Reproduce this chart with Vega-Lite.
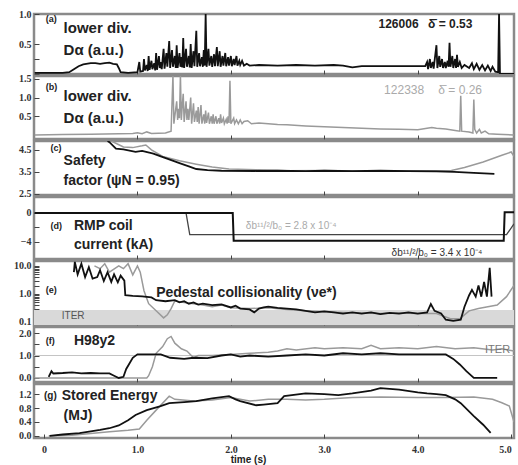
{
"$schema":"https://vega.github.io/schema/vega-lite/v6.json",
"padding":{"left":12,"top":7,"right":0,"bottom":2},
"spacing":2,
"bounds":"flush",
"config":{"view":{"stroke":"#8a8a8a","strokeWidth":2.5},
"axis":{"grid":false,"domain":false,"labelFont":"Liberation Sans Narrow","labelFontWeight":"bold","labelFontSize":10,"labelColor":"#333","tickColor":"#444","tickSize":-5,"labelPadding":8,"title":null},
"concat":{"spacing":2}},
"vconcat":[
{"width":480,"height":60,
"encoding":{"x":{"field":"t","type":"quantitative","scale":{"domain":[-0.107,5.03],"nice":false,"zero":false},"axis":{"values":[1,2,3,4],"labels":false,"tickSize":-4}},
"y":{"field":"v","type":"quantitative","scale":{"domain":[0,1],"nice":false,"zero":false},"axis":{"values":[0,0.25,0.5,1],"labelExpr":"datum.value==0.5||datum.value==1?format(datum.value,'.1f'):''"}}},
"layer":[
{"data":{"values":[{"t":-0.1,"v":0.02},{"t":0.0,"v":0.02},{"t":0.1,"v":0.02},{"t":0.2,"v":0.02},{"t":0.27,"v":0.03},{"t":0.32,"v":0.08},{"t":0.37,"v":0.13},{"t":0.42,"v":0.16},{"t":0.5,"v":0.18},{"t":0.55,"v":0.18},{"t":0.6,"v":0.17},{"t":0.65,"v":0.18},{"t":0.7,"v":0.19},{"t":0.74,"v":0.17},{"t":0.78,"v":0.16},{"t":0.8,"v":0.1},{"t":0.82,"v":0.03},{"t":0.9,"v":0.02},{"t":1.0,"v":0.03},{"t":1.02,"v":0.2},{"t":1.03,"v":0.04},{"t":1.06,"v":0.05},{"t":1.07,"v":0.25},{"t":1.08,"v":0.06},{"t":1.1,"v":0.15},{"t":1.11,"v":0.05},{"t":1.12,"v":0.3},{"t":1.13,"v":0.07},{"t":1.15,"v":0.22},{"t":1.16,"v":0.08},{"t":1.18,"v":0.18},{"t":1.19,"v":0.06},{"t":1.2,"v":0.35},{"t":1.21,"v":0.07},{"t":1.23,"v":0.3},{"t":1.24,"v":0.1},{"t":1.25,"v":0.2},{"t":1.26,"v":0.08},{"t":1.28,"v":0.42},{"t":1.29,"v":0.09},{"t":1.31,"v":0.35},{"t":1.32,"v":0.12},{"t":1.34,"v":0.55},{"t":1.35,"v":0.1},{"t":1.37,"v":0.4},{"t":1.38,"v":0.12},{"t":1.4,"v":0.3},{"t":1.41,"v":0.1},{"t":1.42,"v":0.48},{"t":1.43,"v":0.1},{"t":1.45,"v":0.35},{"t":1.46,"v":0.12},{"t":1.47,"v":0.28},{"t":1.48,"v":0.11},{"t":1.49,"v":0.6},{"t":1.5,"v":0.1},{"t":1.52,"v":0.42},{"t":1.53,"v":0.12},{"t":1.55,"v":0.3},{"t":1.56,"v":0.11},{"t":1.57,"v":0.5},{"t":1.58,"v":0.1},{"t":1.6,"v":0.38},{"t":1.61,"v":0.13},{"t":1.63,"v":0.72},{"t":1.64,"v":0.12},{"t":1.66,"v":0.35},{"t":1.67,"v":0.13},{"t":1.69,"v":0.28},{"t":1.7,"v":0.12},{"t":1.71,"v":0.4},{"t":1.72,"v":0.14},{"t":1.73,"v":1.0},{"t":1.74,"v":0.12},{"t":1.76,"v":0.42},{"t":1.77,"v":0.14},{"t":1.79,"v":0.3},{"t":1.8,"v":0.12},{"t":1.82,"v":0.33},{"t":1.83,"v":0.13},{"t":1.85,"v":0.45},{"t":1.86,"v":0.13},{"t":1.88,"v":0.38},{"t":1.89,"v":0.12},{"t":1.91,"v":0.3},{"t":1.92,"v":0.14},{"t":1.94,"v":0.35},{"t":1.95,"v":0.13},{"t":1.97,"v":0.28},{"t":1.98,"v":0.14},{"t":2.0,"v":0.3},{"t":2.01,"v":0.13},{"t":2.03,"v":0.25},{"t":2.04,"v":0.15},{"t":2.06,"v":0.3},{"t":2.07,"v":0.14},{"t":2.09,"v":0.22},{"t":2.1,"v":0.15},{"t":2.12,"v":0.22},{"t":2.14,"v":0.14},{"t":2.17,"v":0.17},{"t":2.2,"v":0.14},{"t":2.3,"v":0.15},{"t":2.5,"v":0.14},{"t":2.7,"v":0.15},{"t":2.9,"v":0.14},{"t":3.1,"v":0.15},{"t":3.2,"v":0.14},{"t":3.3,"v":0.11},{"t":3.4,"v":0.13},{"t":3.6,"v":0.13},{"t":3.8,"v":0.13},{"t":4.0,"v":0.13},{"t":4.08,"v":0.13},{"t":4.1,"v":0.2},{"t":4.11,"v":0.08},{"t":4.13,"v":0.25},{"t":4.14,"v":0.1},{"t":4.16,"v":0.2},{"t":4.17,"v":0.09},{"t":4.2,"v":0.48},{"t":4.21,"v":0.1},{"t":4.23,"v":0.3},{"t":4.24,"v":0.12},{"t":4.26,"v":0.25},{"t":4.27,"v":0.1},{"t":4.29,"v":0.2},{"t":4.3,"v":0.1},{"t":4.32,"v":0.22},{"t":4.33,"v":0.12},{"t":4.34,"v":0.52},{"t":4.35,"v":0.12},{"t":4.37,"v":0.3},{"t":4.38,"v":0.1},{"t":4.4,"v":0.25},{"t":4.41,"v":0.1},{"t":4.42,"v":0.32},{"t":4.43,"v":0.12},{"t":4.45,"v":0.2},{"t":4.47,"v":0.1},{"t":4.5,"v":0.15},{"t":4.55,"v":0.1},{"t":4.58,"v":0.18},{"t":4.6,"v":0.08},{"t":4.63,"v":0.17},{"t":4.66,"v":0.07},{"t":4.69,"v":0.15},{"t":4.72,"v":0.06},{"t":4.75,"v":0.14},{"t":4.78,"v":0.05},{"t":4.8,"v":0.12},{"t":4.83,"v":0.04},{"t":4.86,"v":0.03},{"t":4.87,"v":1.0},{"t":4.88,"v":0.0},{"t":5.03,"v":0.0}]},
"mark":{"type":"line","color":"#111","strokeWidth":1.8,"clip":true}},
{"data":{"values":[{"t":0.02,"v":0.92,"label":"(a)"}]},"mark":{"type":"text","align":"left","baseline":"middle","font":"Liberation Sans","fontWeight":"bold","fontSize":9,"color":"#222"},"encoding":{"text":{"field":"label"}}},
{"data":{"values":[{"t":0.21,"v":0.77,"label":"lower div."},{"t":0.21,"v":0.4,"label":"Dα (a.u.)"}]},"mark":{"type":"text","align":"left","baseline":"middle","font":"Liberation Sans","fontWeight":"bold","fontSize":15,"color":"#222"},"encoding":{"text":{"field":"label"}}},
{"data":{"values":[{"t":3.58,"v":0.83,"label":"126006"},{"t":4.11,"v":0.83,"label":"δ̄ = 0.53"}]},"mark":{"type":"text","align":"left","baseline":"middle","font":"Liberation Sans","fontWeight":"bold","fontSize":12,"color":"#222"},"encoding":{"text":{"field":"label"}}}
]},
{"width":480,"height":63,
"encoding":{"x":{"field":"t","type":"quantitative","scale":{"domain":[-0.107,5.03],"nice":false,"zero":false},"axis":{"values":[1,2,3,4],"labels":false,"tickSize":-4}},
"y":{"field":"v","type":"quantitative","scale":{"domain":[-0.11,1.58],"nice":false,"zero":false},"axis":{"values":[0.5,1,1.5],"format":".1f"}}},
"layer":[
{"data":{"values":[{"t":-0.1,"v":0.0},{"t":0.2,"v":0.01},{"t":0.5,"v":0.02},{"t":0.8,"v":0.03},{"t":0.95,"v":0.04},{"t":1.0,"v":0.06},{"t":1.05,"v":0.03},{"t":1.1,"v":0.08},{"t":1.15,"v":0.04},{"t":1.3,"v":0.05},{"t":1.36,"v":0.1},{"t":1.38,"v":1.6},{"t":1.39,"v":0.3},{"t":1.42,"v":0.9},{"t":1.43,"v":0.4},{"t":1.44,"v":0.7},{"t":1.45,"v":0.45},{"t":1.46,"v":1.6},{"t":1.47,"v":0.4},{"t":1.48,"v":0.8},{"t":1.49,"v":1.1},{"t":1.5,"v":0.35},{"t":1.52,"v":0.9},{"t":1.53,"v":0.4},{"t":1.54,"v":0.7},{"t":1.55,"v":0.4},{"t":1.57,"v":1.0},{"t":1.58,"v":0.3},{"t":1.6,"v":0.85},{"t":1.61,"v":0.35},{"t":1.63,"v":0.65},{"t":1.64,"v":0.35},{"t":1.65,"v":0.75},{"t":1.66,"v":0.3},{"t":1.68,"v":0.8},{"t":1.69,"v":0.3},{"t":1.71,"v":0.55},{"t":1.72,"v":0.3},{"t":1.73,"v":0.65},{"t":1.74,"v":0.32},{"t":1.76,"v":0.6},{"t":1.77,"v":0.3},{"t":1.79,"v":0.5},{"t":1.8,"v":0.3},{"t":1.81,"v":0.55},{"t":1.82,"v":0.3},{"t":1.84,"v":0.5},{"t":1.85,"v":0.3},{"t":1.87,"v":0.45},{"t":1.88,"v":0.3},{"t":1.89,"v":0.55},{"t":1.9,"v":0.32},{"t":1.92,"v":0.45},{"t":1.93,"v":0.3},{"t":1.95,"v":0.42},{"t":1.96,"v":0.3},{"t":1.97,"v":0.5},{"t":1.98,"v":0.32},{"t":1.99,"v":1.45},{"t":2.0,"v":0.3},{"t":2.03,"v":0.45},{"t":2.04,"v":0.3},{"t":2.06,"v":0.4},{"t":2.08,"v":0.3},{"t":2.1,"v":0.4},{"t":2.12,"v":0.3},{"t":2.14,"v":0.36},{"t":2.18,"v":0.38},{"t":2.22,"v":0.3},{"t":2.3,"v":0.32},{"t":2.4,"v":0.3},{"t":2.5,"v":0.28},{"t":2.6,"v":0.27},{"t":2.8,"v":0.24},{"t":3.0,"v":0.22},{"t":3.2,"v":0.2},{"t":3.4,"v":0.18},{"t":3.6,"v":0.16},{"t":3.8,"v":0.15},{"t":4.0,"v":0.14},{"t":4.1,"v":0.18},{"t":4.15,"v":0.2},{"t":4.2,"v":0.18},{"t":4.3,"v":0.16},{"t":4.4,"v":0.12},{"t":4.45,"v":0.1},{"t":4.46,"v":1.05},{"t":4.47,"v":0.1},{"t":4.55,"v":0.08},{"t":4.59,"v":0.05},{"t":4.6,"v":0.95},{"t":4.61,"v":0.15},{"t":4.63,"v":0.05},{"t":4.66,"v":0.15},{"t":4.68,"v":0.05},{"t":4.72,"v":0.1},{"t":4.76,"v":0.03},{"t":4.85,"v":0.02},{"t":5.03,"v":0.0}]},
"mark":{"type":"line","color":"#9a9a9a","strokeWidth":1.5,"clip":true}},
{"data":{"values":[{"t":0.02,"v":1.29,"label":"(b)"}]},"mark":{"type":"text","align":"left","baseline":"middle","font":"Liberation Sans","fontWeight":"bold","fontSize":9,"color":"#222"},"encoding":{"text":{"field":"label"}}},
{"data":{"values":[{"t":0.21,"v":1.05,"label":"lower div."},{"t":0.21,"v":0.46,"label":"Dα (a.u.)"}]},"mark":{"type":"text","align":"left","baseline":"middle","font":"Liberation Sans","fontWeight":"bold","fontSize":15,"color":"#222"},"encoding":{"text":{"field":"label"}}},
{"data":{"values":[{"t":3.64,"v":1.21,"label":"122338"},{"t":4.22,"v":1.21,"label":"δ̄ = 0.26"}]},"mark":{"type":"text","align":"left","baseline":"middle","font":"Liberation Sans","fontSize":12,"color":"#aaa"},"encoding":{"text":{"field":"label"}}}
]},
{"width":480,"height":54,
"encoding":{"x":{"field":"t","type":"quantitative","scale":{"domain":[-0.107,5.03],"nice":false,"zero":false},"axis":{"values":[1,2,3,4],"labels":false,"tickSize":-4}},
"y":{"field":"v","type":"quantitative","scale":{"domain":[2.45,4.9],"nice":false,"zero":false},"axis":{"values":[2.5,3.5,4.5],"format":".1f"}}},
"layer":[
{"data":{"values":[{"t":0.72,"v":4.9},{"t":0.85,"v":4.63},{"t":0.95,"v":4.6},{"t":1.05,"v":4.68},{"t":1.09,"v":4.72},{"t":1.15,"v":4.5},{"t":1.27,"v":4.2},{"t":1.45,"v":4.0},{"t":1.63,"v":3.85},{"t":1.8,"v":3.72},{"t":1.98,"v":3.63},{"t":2.27,"v":3.59},{"t":2.6,"v":3.55},{"t":3.0,"v":3.56},{"t":3.4,"v":3.54},{"t":3.8,"v":3.55},{"t":4.2,"v":3.55},{"t":4.36,"v":3.56},{"t":4.5,"v":3.7},{"t":4.7,"v":3.95},{"t":4.9,"v":4.25},{"t":5.0,"v":4.4},{"t":5.03,"v":4.2}]},
"mark":{"type":"line","color":"#9a9a9a","strokeWidth":1.5,"clip":true}},
{"data":{"values":[{"t":0.68,"v":4.9},{"t":0.7,"v":4.85},{"t":0.77,"v":4.55},{"t":0.85,"v":4.52},{"t":0.98,"v":4.41},{"t":1.05,"v":4.45},{"t":1.17,"v":4.33},{"t":1.25,"v":4.2},{"t":1.34,"v":4.07},{"t":1.45,"v":3.9},{"t":1.55,"v":3.75},{"t":1.63,"v":3.63},{"t":1.75,"v":3.58},{"t":1.9,"v":3.55},{"t":2.27,"v":3.54},{"t":2.5,"v":3.55},{"t":2.8,"v":3.53},{"t":3.0,"v":3.55},{"t":3.3,"v":3.53},{"t":3.6,"v":3.55},{"t":3.9,"v":3.53},{"t":4.2,"v":3.52},{"t":4.39,"v":3.5},{"t":4.6,"v":3.45},{"t":4.82,"v":3.41}]},
"mark":{"type":"line","color":"#111","strokeWidth":1.8,"clip":true}},
{"data":{"values":[{"t":0.07,"v":4.59,"label":"(c)"}]},"mark":{"type":"text","align":"left","baseline":"middle","font":"Liberation Sans","fontWeight":"bold","fontSize":9,"color":"#222"},"encoding":{"text":{"field":"label"}}},
{"data":{"values":[{"t":0.21,"v":3.98,"label":"Safety"},{"t":0.21,"v":3.07,"label":"factor (ψN = 0.95)"}]},"mark":{"type":"text","align":"left","baseline":"middle","font":"Liberation Sans","fontWeight":"bold","fontSize":14,"color":"#222"},"encoding":{"text":{"field":"label"}}}
]},
{"width":480,"height":62,
"encoding":{"x":{"field":"t","type":"quantitative","scale":{"domain":[-0.107,5.03],"nice":false,"zero":false},"axis":{"values":[1,2,3,4],"labels":false,"tickSize":-4}},
"y":{"field":"v","type":"quantitative","scale":{"domain":[-6.35,2.2],"nice":false,"zero":false},"axis":{"values":[-4,-2,0],"labelExpr":"datum.value==-2?'':format(datum.value,'d')"}}},
"layer":[
{"data":{"values":[{"t":-0.1,"v":0},{"t":1.52,"v":0},{"t":1.56,"v":-3.0},{"t":4.95,"v":-3.0},{"t":5.03,"v":-1.5}]},
"mark":{"type":"line","color":"#444","strokeWidth":1.3,"clip":true}},
{"data":{"values":[{"t":-0.1,"v":0},{"t":2.02,"v":0},{"t":2.03,"v":-3.85},{"t":4.92,"v":-3.85},{"t":4.93,"v":0.1},{"t":5.03,"v":0.1}]},
"mark":{"type":"line","color":"#111","strokeWidth":2,"clip":true}},
{"data":{"values":[{"t":0.07,"v":-1.8,"label":"(d)"}]},"mark":{"type":"text","align":"left","baseline":"middle","font":"Liberation Sans","fontWeight":"bold","fontSize":9,"color":"#222"},"encoding":{"text":{"field":"label"}}},
{"data":{"values":[{"t":0.32,"v":-1.8,"label":"RMP coil"},{"t":0.32,"v":-4.4,"label":"current (kA)"}]},"mark":{"type":"text","align":"left","baseline":"middle","font":"Liberation Sans","fontWeight":"bold","fontSize":14,"color":"#222"},"encoding":{"text":{"field":"label"}}},
{"data":{"values":[{"t":2.16,"v":-1.8,"label":"δb¹¹/²/b₀ = 2.8 x 10⁻⁴"}]},"mark":{"type":"text","align":"left","baseline":"middle","font":"Liberation Sans","fontSize":10,"color":"#aaa"},"encoding":{"text":{"field":"label"}}},
{"data":{"values":[{"t":3.72,"v":-5.5,"label":"δb¹¹/²/b₀ = 3.4 x 10⁻⁴"}]},"mark":{"type":"text","align":"left","baseline":"middle","font":"Liberation Sans","fontSize":10,"color":"#333"},"encoding":{"text":{"field":"label"}}}
]},
{"width":480,"height":64,
"encoding":{"x":{"field":"t","type":"quantitative","scale":{"domain":[-0.107,5.03],"nice":false,"zero":false},"axis":{"values":[1,2,3,4],"labels":false,"tickSize":-4}},
"y":{"field":"v","type":"quantitative","scale":{"type":"log","domain":[0.078,15],"nice":false},"axis":{"values":[0.1,0.2,0.3,0.4,0.5,0.6,0.7,0.8,0.9,1,2,3,4,5,6,7,8,9,10],"labelExpr":"datum.value==0.1||datum.value==1||datum.value==10?format(datum.value,'.1f'):''"}}},
"layer":[
{"data":{"values":[{"t":-0.107,"t2":5.03,"v":0.078,"v2":0.27}]},"mark":{"type":"rect","color":"#d9d9d9"},"encoding":{"x2":{"field":"t2"},"y2":{"field":"v2"}}},
{"data":{"values":[{"t":0.54,"v":10},{"t":0.6,"v":8},{"t":0.65,"v":12},{"t":0.7,"v":6},{"t":0.8,"v":10},{"t":0.85,"v":8},{"t":0.9,"v":12},{"t":0.95,"v":4.8},{"t":1.0,"v":10},{"t":1.03,"v":6},{"t":1.07,"v":1.3},{"t":1.12,"v":0.45},{"t":1.2,"v":0.25},{"t":1.28,"v":0.14},{"t":1.32,"v":0.18},{"t":1.36,"v":0.3},{"t":1.4,"v":0.56},{"t":1.5,"v":0.5},{"t":1.6,"v":0.45},{"t":1.7,"v":0.4},{"t":1.8,"v":0.35},{"t":1.9,"v":0.4},{"t":2.0,"v":0.32},{"t":2.2,"v":0.3},{"t":2.4,"v":0.32},{"t":2.6,"v":0.28},{"t":2.8,"v":0.25},{"t":3.0,"v":0.23},{"t":3.2,"v":0.22},{"t":3.4,"v":0.21},{"t":3.6,"v":0.2},{"t":3.8,"v":0.21},{"t":4.0,"v":0.2},{"t":4.2,"v":0.2},{"t":4.35,"v":0.13},{"t":4.45,"v":0.13},{"t":4.55,"v":0.25},{"t":4.65,"v":0.3},{"t":4.75,"v":0.35},{"t":4.85,"v":0.4},{"t":4.95,"v":0.8},{"t":5.03,"v":2}]},
"mark":{"type":"line","color":"#9a9a9a","strokeWidth":1.5,"clip":true}},
{"data":{"values":[{"t":0.32,"v":6},{"t":0.33,"v":14},{"t":0.36,"v":5},{"t":0.4,"v":12},{"t":0.44,"v":4},{"t":0.48,"v":9},{"t":0.52,"v":3.5},{"t":0.57,"v":4},{"t":0.6,"v":7},{"t":0.64,"v":2.9},{"t":0.68,"v":6},{"t":0.72,"v":2.7},{"t":0.75,"v":5},{"t":0.79,"v":2.6},{"t":0.82,"v":4.5},{"t":0.86,"v":3},{"t":0.87,"v":0.9},{"t":0.95,"v":0.85},{"t":1.05,"v":0.82},{"t":1.15,"v":0.75},{"t":1.2,"v":0.6},{"t":1.3,"v":0.55},{"t":1.4,"v":0.6},{"t":1.45,"v":0.5},{"t":1.5,"v":0.55},{"t":1.55,"v":0.45},{"t":1.6,"v":0.5},{"t":1.65,"v":0.42},{"t":1.7,"v":0.45},{"t":1.8,"v":0.4},{"t":1.9,"v":0.42},{"t":2.0,"v":0.33},{"t":2.05,"v":0.38},{"t":2.1,"v":0.3},{"t":2.2,"v":0.28},{"t":2.25,"v":0.22},{"t":2.3,"v":0.3},{"t":2.35,"v":0.33},{"t":2.4,"v":0.35},{"t":2.5,"v":0.32},{"t":2.6,"v":0.3},{"t":2.7,"v":0.28},{"t":2.8,"v":0.25},{"t":2.9,"v":0.22},{"t":3.0,"v":0.24},{"t":3.1,"v":0.22},{"t":3.2,"v":0.2},{"t":3.3,"v":0.22},{"t":3.4,"v":0.2},{"t":3.5,"v":0.22},{"t":3.6,"v":0.19},{"t":3.7,"v":0.21},{"t":3.8,"v":0.2},{"t":3.9,"v":0.22},{"t":4.0,"v":0.2},{"t":4.1,"v":0.22},{"t":4.14,"v":0.44},{"t":4.18,"v":0.25},{"t":4.25,"v":0.2},{"t":4.3,"v":0.12},{"t":4.38,"v":0.11},{"t":4.46,"v":0.12},{"t":4.5,"v":0.35},{"t":4.55,"v":0.9},{"t":4.58,"v":1.4},{"t":4.62,"v":0.8},{"t":4.65,"v":2},{"t":4.68,"v":0.8},{"t":4.71,"v":2.7},{"t":4.74,"v":0.8},{"t":4.77,"v":8.5},{"t":4.79,"v":0.8}]},
"mark":{"type":"line","color":"#111","strokeWidth":1.8,"clip":true}},
{"data":{"values":[{"t":0.02,"v":1.39,"label":"(e)"}]},"mark":{"type":"text","align":"left","baseline":"middle","font":"Liberation Sans","fontWeight":"bold","fontSize":9,"color":"#222"},"encoding":{"text":{"field":"label"}}},
{"data":{"values":[{"t":1.2,"v":1.09,"label":"Pedestal collisionality (νe*)"}]},"mark":{"type":"text","align":"left","baseline":"middle","font":"Liberation Sans","fontWeight":"bold","fontSize":14,"color":"#222"},"encoding":{"text":{"field":"label"}}},
{"data":{"values":[{"t":0.19,"v":0.164,"label":"ITER"}]},"mark":{"type":"text","align":"left","baseline":"middle","font":"Liberation Sans","fontSize":10,"color":"#555"},"encoding":{"text":{"field":"label"}}}
]},
{"width":480,"height":55,
"encoding":{"x":{"field":"t","type":"quantitative","scale":{"domain":[-0.107,5.03],"nice":false,"zero":false},"axis":{"values":[1,2,3,4],"labels":false,"tickSize":-4}},
"y":{"field":"v","type":"quantitative","scale":{"domain":[-0.18,2.27],"nice":false,"zero":false},"axis":{"values":[0,0.5,1,1.5,2],"labelExpr":"datum.value==0||datum.value==1||datum.value==2?format(datum.value,'.1f'):''"}}},
"layer":[
{"data":{"values":[{"t":-0.107,"t2":5.03,"v":1}]},"mark":{"type":"rule","color":"#c4c4c4","strokeWidth":1},"encoding":{"x2":{"field":"t2"}}},
{"data":{"values":[{"t":-0.1,"v":0},{"t":1.1,"v":0.0},{"t":1.12,"v":0.1},{"t":1.16,"v":0.5},{"t":1.2,"v":1.1},{"t":1.27,"v":1.4},{"t":1.32,"v":1.75},{"t":1.36,"v":1.85},{"t":1.4,"v":1.55},{"t":1.47,"v":1.3},{"t":1.53,"v":1.2},{"t":1.6,"v":0.9},{"t":1.65,"v":1.0},{"t":1.8,"v":1.0},{"t":2.0,"v":1.05},{"t":2.2,"v":1.1},{"t":2.4,"v":1.15},{"t":2.5,"v":1.2},{"t":2.6,"v":1.3},{"t":2.7,"v":1.25},{"t":2.9,"v":1.35},{"t":3.0,"v":1.3},{"t":3.2,"v":1.35},{"t":3.4,"v":1.3},{"t":3.5,"v":1.45},{"t":3.6,"v":1.3},{"t":3.8,"v":1.35},{"t":4.0,"v":1.3},{"t":4.2,"v":1.4},{"t":4.4,"v":1.3},{"t":4.6,"v":1.35},{"t":4.8,"v":1.25},{"t":4.9,"v":1.3},{"t":5.03,"v":1.2}]},
"mark":{"type":"line","color":"#9a9a9a","strokeWidth":1.5,"clip":true}},
{"data":{"values":[{"t":0.05,"v":0.05},{"t":0.08,"v":0.3},{"t":0.1,"v":0.2},{"t":0.2,"v":0.22},{"t":0.3,"v":0.25},{"t":0.4,"v":0.2},{"t":0.5,"v":0.22},{"t":0.6,"v":0.2},{"t":0.7,"v":0.2},{"t":0.75,"v":0.1},{"t":0.8,"v":0.0},{"t":0.85,"v":0.05},{"t":0.88,"v":0.4},{"t":0.95,"v":0.9},{"t":1.0,"v":1.05},{"t":1.1,"v":1.05},{"t":1.25,"v":1.05},{"t":1.35,"v":0.9},{"t":1.5,"v":0.85},{"t":1.6,"v":0.9},{"t":1.75,"v":0.88},{"t":1.9,"v":1.0},{"t":2.0,"v":1.05},{"t":2.1,"v":0.95},{"t":2.2,"v":1.0},{"t":2.4,"v":0.95},{"t":2.6,"v":1.0},{"t":2.8,"v":1.05},{"t":3.0,"v":1.0},{"t":3.2,"v":1.1},{"t":3.4,"v":1.05},{"t":3.6,"v":1.1},{"t":3.8,"v":1.05},{"t":4.0,"v":1.05},{"t":4.3,"v":1.05},{"t":4.38,"v":0.85},{"t":4.45,"v":0.6},{"t":4.52,"v":0.3},{"t":4.6,"v":0.0},{"t":4.85,"v":0.0}]},
"mark":{"type":"line","color":"#111","strokeWidth":1.8,"clip":true}},
{"data":{"values":[{"t":0.02,"v":1.64,"label":"(f)"}]},"mark":{"type":"text","align":"left","baseline":"middle","font":"Liberation Sans","fontWeight":"bold","fontSize":9,"color":"#222"},"encoding":{"text":{"field":"label"}}},
{"data":{"values":[{"t":0.32,"v":1.64,"label":"H98y2"}]},"mark":{"type":"text","align":"left","baseline":"middle","font":"Liberation Sans","fontWeight":"bold","fontSize":14,"color":"#222"},"encoding":{"text":{"field":"label"}}},
{"data":{"values":[{"t":4.72,"v":1.24,"label":"ITER"}]},"mark":{"type":"text","align":"left","baseline":"middle","font":"Liberation Sans","fontSize":11,"color":"#777"},"encoding":{"text":{"field":"label"}}}
]},
{"width":480,"height":54,
"encoding":{"x":{"field":"t","type":"quantitative","scale":{"domain":[-0.107,5.03],"nice":false,"zero":false},"axis":{"values":[0,1,2,3,4,5],"labelExpr":"datum.value==0?'0':format(datum.value,'.1f')","tickSize":-4,"labelPadding":10,"labelFlush":8,"title":"time (s)","titleFont":"Liberation Sans","titleFontWeight":"bold","titleFontSize":10,"titleColor":"#222","titlePadding":0,"titleX":214}},
"y":{"field":"v","type":"quantitative","scale":{"domain":[-0.06,1.49],"nice":false,"zero":false},"axis":{"values":[0,0.4,0.8,1.2],"format":".1f"}}},
"layer":[
{"data":{"values":[{"t":0.05,"v":0.0},{"t":0.3,"v":0.02},{"t":0.5,"v":0.07},{"t":0.7,"v":0.12},{"t":0.9,"v":0.16},{"t":1.02,"v":0.2},{"t":1.1,"v":0.45},{"t":1.2,"v":0.74},{"t":1.34,"v":1.14},{"t":1.4,"v":1.05},{"t":1.6,"v":1.0},{"t":1.8,"v":1.03},{"t":2.0,"v":1.1},{"t":2.2,"v":1.0},{"t":2.4,"v":1.05},{"t":2.6,"v":1.05},{"t":2.8,"v":1.03},{"t":3.0,"v":1.05},{"t":3.3,"v":1.1},{"t":3.6,"v":1.12},{"t":4.0,"v":1.1},{"t":4.3,"v":1.1},{"t":4.6,"v":1.12},{"t":4.8,"v":1.05},{"t":4.9,"v":0.95},{"t":4.98,"v":0.86},{"t":5.03,"v":0.4}]},
"mark":{"type":"line","color":"#9a9a9a","strokeWidth":1.5,"clip":true}},
{"data":{"values":[{"t":0.06,"v":0.0},{"t":0.2,"v":0.04},{"t":0.38,"v":0.08},{"t":0.5,"v":0.13},{"t":0.6,"v":0.17},{"t":0.7,"v":0.22},{"t":0.8,"v":0.3},{"t":0.9,"v":0.45},{"t":0.98,"v":0.6},{"t":1.1,"v":0.74},{"t":1.24,"v":0.85},{"t":1.34,"v":0.94},{"t":1.5,"v":0.97},{"t":1.63,"v":1.0},{"t":1.8,"v":1.08},{"t":1.98,"v":1.14},{"t":2.05,"v":1.05},{"t":2.1,"v":1.0},{"t":2.27,"v":0.88},{"t":2.35,"v":0.9},{"t":2.5,"v":0.94},{"t":2.57,"v":1.14},{"t":2.8,"v":1.22},{"t":3.0,"v":1.2},{"t":3.15,"v":1.17},{"t":3.3,"v":1.22},{"t":3.5,"v":1.3},{"t":3.6,"v":1.37},{"t":3.8,"v":1.33},{"t":4.0,"v":1.25},{"t":4.1,"v":1.22},{"t":4.2,"v":1.2},{"t":4.3,"v":1.17},{"t":4.4,"v":1.05},{"t":4.46,"v":0.94},{"t":4.6,"v":0.57},{"t":4.7,"v":0.32},{"t":4.78,"v":0.09}]},
"mark":{"type":"line","color":"#111","strokeWidth":1.8,"clip":true}},
{"data":{"values":[{"t":0.0,"v":1.14,"label":"(g)"}]},"mark":{"type":"text","align":"left","baseline":"middle","font":"Liberation Sans","fontWeight":"bold","fontSize":10,"color":"#222"},"encoding":{"text":{"field":"label"}}},
{"data":{"values":[{"t":0.19,"v":1.14,"label":"Stored Energy"},{"t":0.21,"v":0.57,"label":"(MJ)"}]},"mark":{"type":"text","align":"left","baseline":"middle","font":"Liberation Sans","fontWeight":"bold","fontSize":14,"color":"#222"},"encoding":{"text":{"field":"label"}}}
]}
]
}
